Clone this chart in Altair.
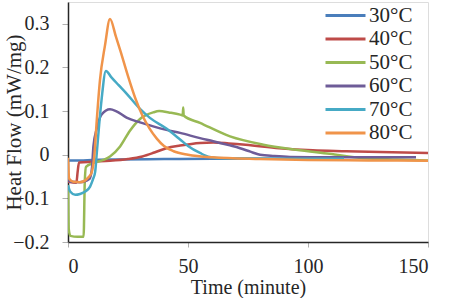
import altair as alt
import pandas as pd

# Isothermal heat-flow curves (time in minutes, heat flow in mW/mg)
t_30 = [0, 0.5, 5, 10, 20, 40, 60, 80, 100, 115]
v_30 = [-0.015, -0.013, -0.013, -0.012, -0.011, -0.010, -0.009, -0.009, -0.009, -0.009]

t_40 = [0, 3.5, 4.0, 4.6, 10, 17.5, 25, 31, 36, 41, 46.7, 55, 60.5, 67, 74, 88, 102, 116, 130, 150]
v_40 = [-0.062, -0.064, -0.04, -0.018, -0.016, -0.014, -0.010, -0.004, 0.005, 0.015, 0.021, 0.027,
        0.028, 0.026, 0.023, 0.015, 0.010, 0.008, 0.006, 0.004]

t_50 = [0, 0.3, 1, 4, 6.5, 7.0, 7.5, 10.5, 14.7, 17.5, 21.7, 25.8, 30, 35.5, 38, 42, 46.7, 47.8,
        48, 48.2, 55, 67.5, 81.4, 95, 109, 123, 137, 150]
v_50 = [-0.07, -0.17, -0.186, -0.188, -0.188, -0.06, -0.028, -0.019, -0.012, -0.004, 0.019, 0.055,
        0.082, 0.097, 0.100, 0.097, 0.092, 0.090, 0.108, 0.090, 0.073, 0.042, 0.023, 0.0115, 0.002,
        -0.008, -0.011, -0.013]

t_60 = [0, 1, 5, 9, 10, 10.6, 12, 14, 17.5, 20, 24.4, 30, 35.5, 41, 46.7, 55, 60.5, 67, 71.7, 76,
        80, 86, 92.5, 110, 130, 145]
v_60 = [-0.055, -0.062, -0.063, -0.055, -0.03, 0.02, 0.06, 0.092, 0.104, 0.100, 0.085, 0.074,
        0.065, 0.057, 0.050, 0.038, 0.031, 0.022, 0.015, 0.007, 0.0, -0.003, -0.005, -0.006,
        -0.006, -0.006]

t_70 = [0, 1, 3, 5, 7, 9.2, 10.5, 11.3, 12, 13, 14, 15.8, 18, 21, 24.4, 30, 34, 41, 46.7, 50, 55,
        59, 65, 90, 115]
v_70 = [-0.07, -0.085, -0.092, -0.09, -0.085, -0.073, -0.055, -0.04, 0.004, 0.07, 0.127, 0.192,
        0.178, 0.160, 0.140, 0.105, 0.085, 0.060, 0.035, 0.020, 0.004, -0.005, -0.008, -0.009,
        -0.009]

t_80 = [0, 0.5, 2.2, 5, 8.5, 9.9, 11, 12, 13.3, 15.4, 17.5, 20, 22, 25, 28, 31, 34, 37, 40, 44,
        50, 60, 80, 100, 125, 150]
v_80 = [-0.007, -0.055, -0.062, -0.063, -0.052, -0.04, 0.0, 0.08, 0.17, 0.25, 0.311, 0.27, 0.235,
        0.18, 0.13, 0.09, 0.06, 0.037, 0.02, 0.008, 0.0, -0.006, -0.010, -0.012, -0.013, -0.014]

series = ["30°C", "40°C", "50°C", "60°C", "70°C", "80°C"]
colors = ["#4A7EBB", "#BE4B48", "#98B954", "#6E5C98", "#46AAC5", "#F0944A"]
times = [t_30, t_40, t_50, t_60, t_70, t_80]
values = [v_30, v_40, v_50, v_60, v_70, v_80]

rows = []
for name, ts, vs in zip(series, times, values):
    for i, (t, v) in enumerate(zip(ts, vs)):
        rows.append({"series": name, "order": i, "time": t, "flow": v})
df = pd.DataFrame(rows)

serif = "Times New Roman, Liberation Serif, DejaVu Serif, serif"
ink = "#262626"

chart = (
    alt.Chart(df)
    .mark_line(strokeWidth=2.5, interpolate="monotone", clip=True)
    .encode(
        x=alt.X(
            "time:Q",
            scale=alt.Scale(domain=[0, 150], nice=False, zero=False),
            axis=alt.Axis(
                title="Time (minute)",
                values=[0, 50, 100, 150],
                format="d",
                grid=False,
                domainColor=ink,
                domainWidth=1.5,
                tickColor="#B0B0B0",
                tickSize=5,
                labelPadding=9,
                labelFont=serif,
                labelFontSize=20,
                labelColor=ink,
                titleFont=serif,
                titleFontSize=20,
                titleFontWeight="normal",
                titleColor=ink,
                titleBaseline="alphabetic",
                titleY=51,
            ),
        ),
        y=alt.Y(
            "flow:Q",
            scale=alt.Scale(domain=[-0.2, 0.35], nice=False, zero=False),
            axis=alt.Axis(
                title="Heat Flow (mW/mg)",
                values=[-0.2, -0.1, 0, 0.1, 0.2, 0.3],
                labelExpr="datum.value == 0 ? '0' : format(datum.value, '.1f')",
                grid=False,
                domainColor=ink,
                domainWidth=1.5,
                tickColor="#B0B0B0",
                tickSize=6,
                labelPadding=13,
                labelFont=serif,
                labelFontSize=20,
                labelColor=ink,
                titleFont=serif,
                titleFontSize=21,
                titleFontWeight="normal",
                titleColor=ink,
                titleAngle=270,
                titleAlign="center",
                titleBaseline="alphabetic",
                titleX=-48,
                titleY=120,
            ),
        ),
        color=alt.Color(
            "series:N",
            scale=alt.Scale(domain=series, range=colors),
            sort=series,
            legend=alt.Legend(
                title=None,
                orient="none",
                legendX=266,
                legendY=2,
                symbolType="M-2,0L2,0",
                symbolSize=400,
                symbolStrokeWidth=3,
                labelOffset=12,
                labelFont=serif,
                labelFontSize=21,
                labelColor=ink,
                rowPadding=1.5,
                padding=0,
            ),
        ),
        order="order:Q",
    )
    .properties(width=360, height=240, padding={"left": 68, "top": 2, "right": 21, "bottom": 56},
                autosize=alt.AutoSizeParams(type="none"))
    .configure_view(stroke="#5a5a5a", strokeWidth=1.5)
    .configure(background="white")
)

chart.save("out.html", embed_options={"renderer": "svg", "actions": False})
